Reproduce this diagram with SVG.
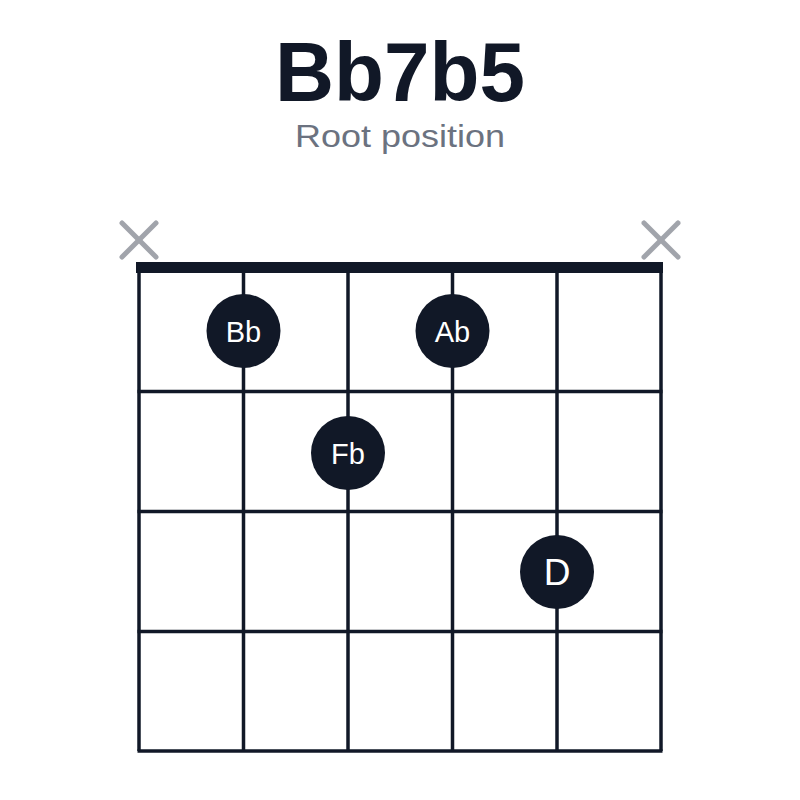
<svg xmlns="http://www.w3.org/2000/svg" width="800" height="800" viewBox="0 0 800 800">
<style>
.str{stroke:#111827;stroke-width:3.5;fill:none}
.x{stroke:#a1a4ab;stroke-width:5;stroke-linecap:round}
.dot{fill:#111827}
.lbl{fill:#ffffff;font-family:"Liberation Sans",Arial,sans-serif;text-anchor:middle}
</style>
<rect width="800" height="800" fill="#ffffff"/>
<g id="title">
<text x="400" y="101" font-family="Liberation Sans,Arial,sans-serif" font-weight="bold" font-size="84" fill="#111827" text-anchor="middle" textLength="250" lengthAdjust="spacingAndGlyphs">Bb7b5</text>
<text x="400" y="147" font-family="Liberation Sans,Arial,sans-serif" font-size="31" fill="#6b7280" text-anchor="middle" textLength="210" lengthAdjust="spacingAndGlyphs">Root position</text>
</g>
<g id="grid">
<rect x="136" y="262" width="527" height="11" fill="#111827"/>
<line class="str" x1="139" y1="268" x2="139" y2="751"/>
<line class="str" x1="243.5" y1="268" x2="243.5" y2="751"/>
<line class="str" x1="348" y1="268" x2="348" y2="751"/>
<line class="str" x1="452.5" y1="268" x2="452.5" y2="751"/>
<line class="str" x1="557" y1="268" x2="557" y2="751"/>
<line class="str" x1="661" y1="268" x2="661" y2="751"/>
<line class="str" x1="137.5" y1="391.5" x2="662.5" y2="391.5"/>
<line class="str" x1="137.5" y1="511.5" x2="662.5" y2="511.5"/>
<line class="str" x1="137.5" y1="631.5" x2="662.5" y2="631.5"/>
<line class="str" x1="137.5" y1="751" x2="662.5" y2="751"/>
</g>
<g id="mute-1"><line class="x" x1="122" y1="223" x2="156" y2="257"/><line class="x" x1="156" y1="223" x2="122" y2="257"/></g>
<g id="mute-6"><line class="x" x1="644" y1="223" x2="678" y2="257"/><line class="x" x1="678" y1="223" x2="644" y2="257"/></g>
<g id="note-Bb"><circle class="dot" cx="243.5" cy="331" r="37"/><text class="lbl" x="243.5" y="342" font-size="29">Bb</text></g>
<g id="note-Ab"><circle class="dot" cx="452.5" cy="331" r="37"/><text class="lbl" x="452.5" y="342" font-size="29">Ab</text></g>
<g id="note-Fb"><circle class="dot" cx="348" cy="453" r="37"/><text class="lbl" x="348" y="464" font-size="29">Fb</text></g>
<g id="note-D"><circle class="dot" cx="557" cy="572" r="37"/><text class="lbl" x="557" y="585" font-size="37">D</text></g>
</svg>
